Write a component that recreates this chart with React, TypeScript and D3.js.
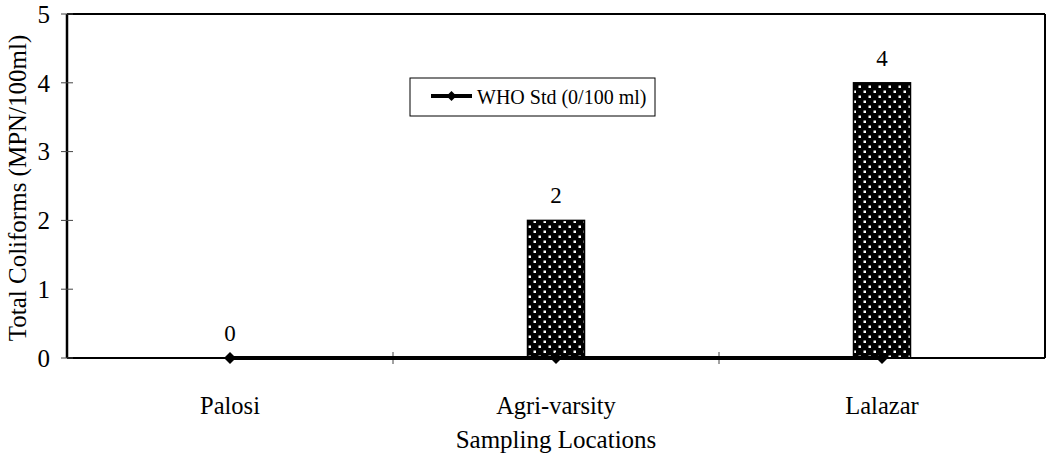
import * as React from "react";
import { scaleBand, scaleLinear, line } from "d3";

const locations = ["Palosi", "Agri-varsity", "Lalazar"];
const coliforms = [0, 2, 4];
const whoStd = [0, 0, 0];
const yTicks = [0, 1, 2, 3, 4, 5];

const width = 1048;
const height = 456;
const margin = { top: 14, right: 3, bottom: 98, left: 67 };
const font = "'Liberation Serif', 'Times New Roman', serif";

function App() {
    const innerW = width - margin.left - margin.right;
    const innerH = height - margin.top - margin.bottom;

    const xScale = scaleBand().domain(locations).range([0, innerW]);
    const yScale = scaleLinear().domain([0, 5]).range([innerH, 0]);
    const barW = 57;
    const cx = (c: string) => xScale(c) + xScale.bandwidth() / 2;

    const whoLine = line<number>()
        .x((d, i) => cx(locations[i]))
        .y(d => yScale(d));

    const diamond = (x, y, r) =>
        `M${x},${y - r}L${x + r},${y}L${x},${y + r}L${x - r},${y}Z`;

    return (
        <svg
            width={width}
            height={height}
            style={{ position: "absolute", left: 0, top: 0, background: "#fff" }}
        >
            <defs>
                <pattern id="dots" width="10" height="10" patternUnits="userSpaceOnUse">
                    <rect width="10" height="10" fill="#000" />
                    <rect x="1.5" y="1.5" width="2.5" height="2.5" fill="#fff" />
                    <rect x="6.5" y="6.5" width="2.5" height="2.5" fill="#fff" />
                </pattern>
            </defs>
            <g transform={`translate(${margin.left},${margin.top})`}>
                {/* plot frame */}
                <line x1={0} x2={innerW} y1={0} y2={0} stroke="#000" strokeWidth={2} />
                <line x1={innerW} x2={innerW} y1={0} y2={innerH} stroke="#000" strokeWidth={2} />

                {/* bars */}
                {coliforms.map((v, i) => (
                    <rect
                        key={locations[i]}
                        x={cx(locations[i]) - barW / 2}
                        y={yScale(v)}
                        width={barW}
                        height={innerH - yScale(v)}
                        fill="url(#dots)"
                        stroke="#000"
                        strokeWidth={1.5}
                    />
                ))}

                {/* bar labels */}
                {coliforms.map((v, i) => (
                    <text
                        key={"l" + i}
                        x={cx(locations[i])}
                        y={yScale(v) - 17}
                        textAnchor="middle"
                        fontFamily={font}
                        fontSize={23}
                    >
                        {v}
                    </text>
                ))}

                {/* axes */}
                <line x1={0} x2={innerW} y1={innerH} y2={innerH} stroke="#000" strokeWidth={2} />
                <line x1={0} x2={0} y1={0} y2={innerH} stroke="#000" strokeWidth={2.5} />
                {yTicks.map(t => (
                    <g key={t} transform={`translate(0,${yScale(t)})`}>
                        <line x1={-6} x2={6} stroke="#444" strokeWidth={1} />
                        <text
                            x={-17}
                            dy="0.35em"
                            textAnchor="end"
                            fontFamily={font}
                            fontSize={25}
                        >
                            {t}
                        </text>
                    </g>
                ))}
                {locations.slice(1).map(c => (
                    <line
                        key={c}
                        x1={xScale(c)}
                        x2={xScale(c)}
                        y1={innerH - 6}
                        y2={innerH + 6}
                        stroke="#444"
                        strokeWidth={1}
                    />
                ))}
                {locations.map(c => (
                    <text
                        key={c}
                        x={cx(c)}
                        y={innerH + 56}
                        textAnchor="middle"
                        fontFamily={font}
                        fontSize={24.5}
                    >
                        {c}
                    </text>
                ))}

                {/* WHO standard line */}
                <path d={whoLine(whoStd)} fill="none" stroke="#000" strokeWidth={4} />
                {whoStd.map((v, i) => (
                    <path
                        key={"d" + i}
                        d={diamond(cx(locations[i]), yScale(v), 6)}
                        fill="#000"
                    />
                ))}

                {/* legend */}
                <g transform="translate(343,64)">
                    <rect x={0} y={0} width={245} height={38} fill="#fff" stroke="#000" strokeWidth={1} />
                    <line x1={21} x2={62} y1={18} y2={18} stroke="#000" strokeWidth={4} />
                    <path d={diamond(41.5, 18, 5)} fill="#000" />
                    <text x={67} y={26} fontFamily={font} fontSize={20}>
                        WHO Std (0/100 ml)
                    </text>
                </g>
            </g>

            {/* axis titles */}
            <text
                transform={`translate(26,${margin.top + innerH / 2 + 2}) rotate(-90)`}
                textAnchor="middle"
                fontFamily={font}
                fontSize={25}
            >
                Total Coliforms (MPN/100ml)
            </text>
            <text
                x={margin.left + innerW / 2}
                y={448}
                textAnchor="middle"
                fontFamily={font}
                fontSize={25}
            >
                Sampling Locations
            </text>
        </svg>
    );
}

export default App;
